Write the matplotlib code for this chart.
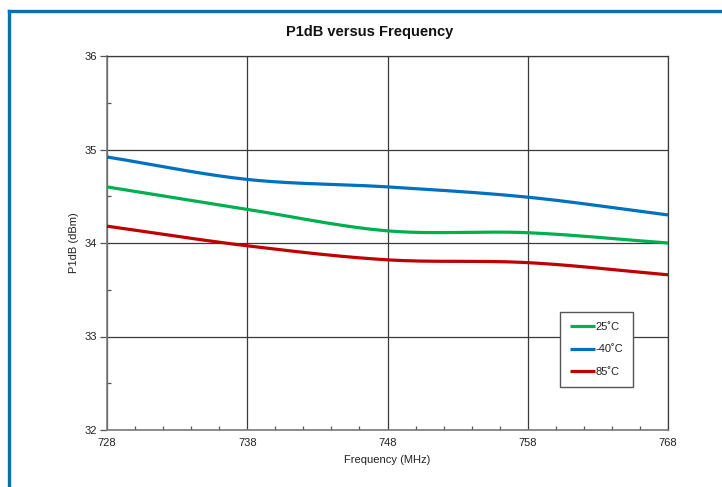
import numpy as np
import matplotlib
matplotlib.use("Agg")
import matplotlib.pyplot as plt
from matplotlib.lines import Line2D
from matplotlib.ticker import MultipleLocator, FixedLocator

plt.rcParams['font.family'] = ['Liberation Sans', 'DejaVu Sans']

freq = [728, 738, 748, 758, 768]
p1db_25c = [34.60, 34.36, 34.13, 34.11, 34.00]
p1db_m40c = [34.92, 34.68, 34.60, 34.49, 34.30]
p1db_85c = [34.18, 33.97, 33.82, 33.79, 33.66]

series = [
    ("25˚C", p1db_25c, "#00B050"),
    ("-40˚C", p1db_m40c, "#0070C0"),
    ("85˚C", p1db_85c, "#C00000"),
]


def smooth(x, y, n=40):
    """Catmull-Rom curve through the points, like a smoothed line chart."""
    x = np.asarray(x, float)
    y = np.asarray(y, float)
    px = np.concatenate([[2 * x[0] - x[1]], x, [2 * x[-1] - x[-2]]])
    py = np.concatenate([[2 * y[0] - y[1]], y, [2 * y[-1] - y[-2]]])
    xs, ys = [], []
    t = np.linspace(0, 1, n)
    for i in range(1, len(px) - 2):
        for arr, out in ((px, xs), (py, ys)):
            p0, p1, p2, p3 = arr[i - 1], arr[i], arr[i + 1], arr[i + 2]
            seg = 0.5 * ((2 * p1) + (-p0 + p2) * t
                         + (2 * p0 - 5 * p1 + 4 * p2 - p3) * t ** 2
                         + (-p0 + 3 * p1 - 3 * p2 + p3) * t ** 3)
            out.append(seg if i == 1 else seg[1:])
    return np.concatenate(xs), np.concatenate(ys)


fig = plt.figure(figsize=(7.22, 4.87), dpi=100)
ax = fig.add_axes([107 / 722, 57 / 487, 561 / 722, 374 / 487])

for label, vals, color in series:
    sx, sy = smooth(freq, vals)
    ax.plot(sx, sy, color=color, lw=2.3, label=label, solid_capstyle='butt', zorder=3)

ax.set_xlim(freq[0], freq[-1])
ax.set_ylim(32, 36)
ax.xaxis.set_major_locator(FixedLocator(freq))
ax.xaxis.set_minor_locator(FixedLocator(np.arange(freq[0], freq[-1] + 1, 2)))
ax.yaxis.set_major_locator(MultipleLocator(1))
ax.yaxis.set_minor_locator(MultipleLocator(0.5))

ax.grid(True, which='major', color='#3a3a3a', lw=0.9, zorder=1)
for side in ('top', 'right'):
    ax.spines[side].set_color('#3a3a3a')
    ax.spines[side].set_linewidth(0.9)
for side in ('left', 'bottom'):
    ax.spines[side].set_color('#7a7a7a')
    ax.spines[side].set_linewidth(1.2)

ax.tick_params(which='major', direction='out', length=5, width=0.9,
               color='#555555', labelsize=8, labelcolor='#222222', pad=2)
ax.tick_params(which='minor', direction='in', length=3, width=0.9, color='#555555')
ax.tick_params(axis='x', which='major', length=0, pad=6)

ax.set_xlabel("Frequency (MHz)", fontsize=8, color='#222222', labelpad=5)
ax.set_ylabel("P1dB (dBm)", fontsize=8, color='#222222', labelpad=4)
fig.text(370 / 722, 1 - 32 / 487, "P1dB versus Frequency", ha='center', va='center',
         fontsize=10.5, fontweight='bold', color='#111111')

leg = ax.legend(loc='upper left', bbox_to_anchor=(0.807, 0.315), fontsize=8,
                frameon=True, fancybox=False, handlelength=2.3, handletextpad=0.0,
                labelspacing=1.1, borderpad=0.9, borderaxespad=0)
leg.get_frame().set_edgecolor('#555555')
leg.get_frame().set_linewidth(1.0)
leg.get_frame().set_facecolor('white')
leg.get_frame().set_alpha(1)
for t in leg.get_texts():
    t.set_color('#222222')

# blue frame around the chart
border = '#0B6EAF'
fig.add_artist(Line2D([8.5 / 722, 8.5 / 722], [0, 1 - 10.5 / 487], color=border, lw=2.4,
                      transform=fig.transFigure, solid_capstyle='projecting'))
fig.add_artist(Line2D([8.5 / 722, 1.0], [1 - 10.5 / 487, 1 - 10.5 / 487], color=border, lw=2.4,
                      transform=fig.transFigure, solid_capstyle='projecting'))

fig.savefig("out.png", dpi=100, facecolor='white')
